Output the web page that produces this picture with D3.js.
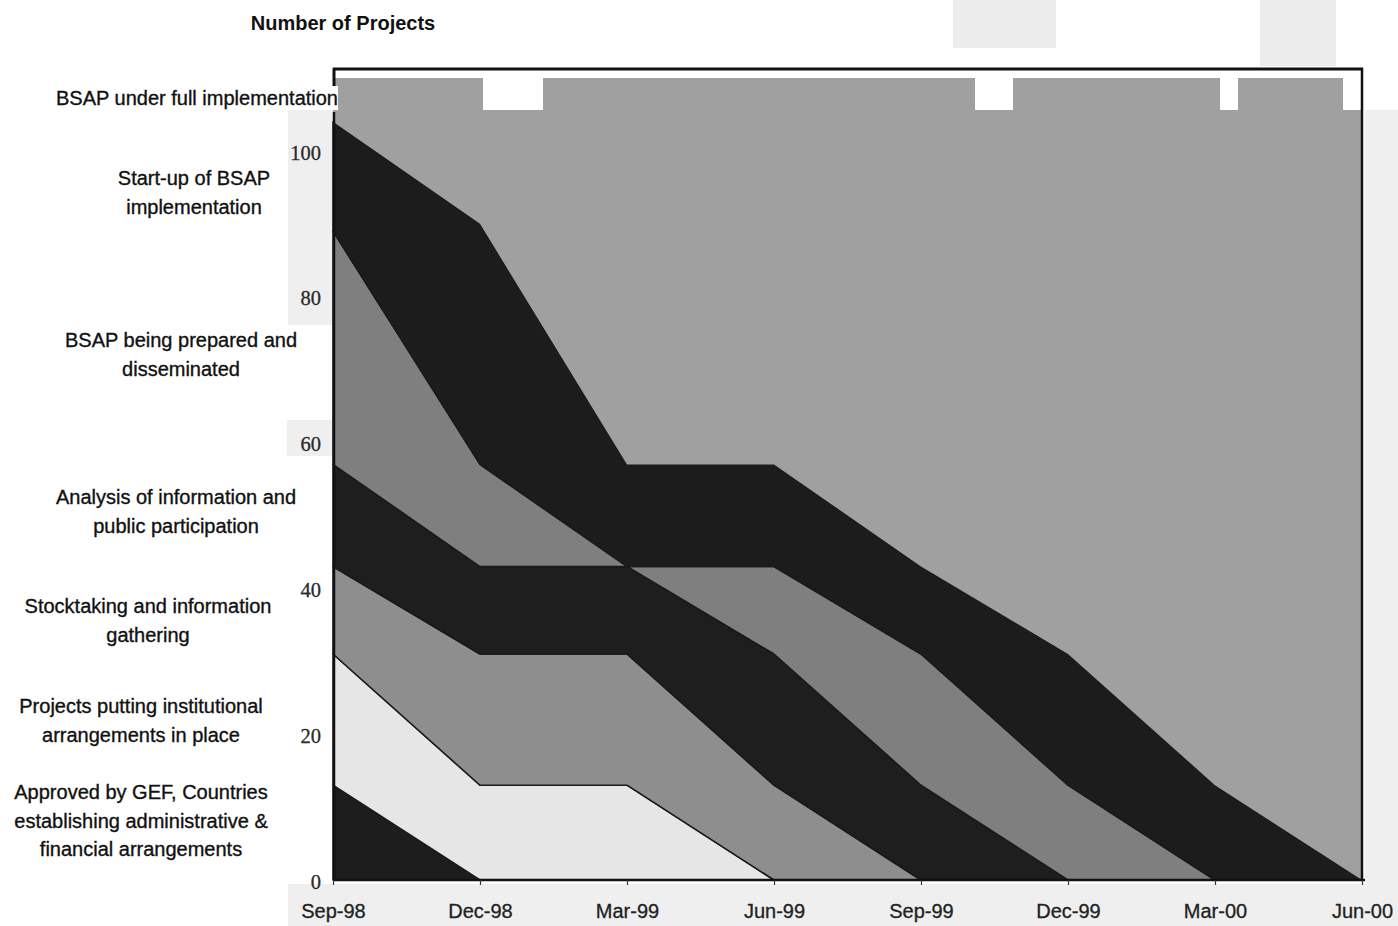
<!DOCTYPE html>
<html><head><meta charset="utf-8">
<script src="https://cdn.jsdelivr.net/npm/d3@7"></script>
<style>
html,body{margin:0;padding:0;background:#fff;}
svg{display:block;}
</style></head>
<body>
<svg id="chart" width="1398" height="926"></svg>
<script>
// ---- data ----
const quarters = ["Sep-98","Dec-98","Mar-99","Jun-99","Sep-99","Dec-99","Mar-00","Jun-00"];
const stageNames = [
  "Approved by GEF, Countries establishing administrative & financial arrangements",
  "Projects putting institutional arrangements in place",
  "Stocktaking and information gathering",
  "Analysis of information and public participation",
  "BSAP being prepared and disseminated",
  "Start-up of BSAP implementation",
  "BSAP under full implementation"
];
const approved      = [13, 0, 0, 0, 0, 0, 0, 0];
const institutional = [18,13,13, 0, 0, 0, 0, 0];
const stocktaking   = [12,18,18,13, 0, 0, 0, 0];
const analysis      = [14,12,12,18,13, 0, 0, 0];
const prepared      = [32,14, 0,12,18,13, 0, 0];
const startup       = [15,33,14,14,12,18,13, 0];
const fullImpl      = [ 6,20,53,53,67,79,97,110];
const yTicks = [0,20,40,60,80,100];
const labelLines = [
  ["Approved by GEF, Countries","establishing administrative &","financial arrangements"],
  ["Projects putting institutional","arrangements in place"],
  ["Stocktaking and information","gathering"],
  ["Analysis of information and","public participation"],
  ["BSAP being prepared and","disseminated"],
  ["Start-up of BSAP","implementation"],
  ["BSAP under full implementation"]
];

// ---- build table ----
const seriesArrays = [approved,institutional,stocktaking,analysis,prepared,startup,fullImpl];
const keys = stageNames;
const table = quarters.map((q,i)=>{
  const row = {q};
  keys.forEach((k,j)=>row[k]=seriesArrays[j][i]);
  return row;
});

const svg = d3.select("#chart");
const fills = ["#1d1d1d","#e6e6e6","#8e8e8e","#1e1e1e","#7f7f7f","#1c1c1c","#a0a0a0"];

const x = d3.scalePoint().domain(quarters).range([333,1362]);
const y = d3.scaleLinear().domain([0,110]).range([880,78]);

// scan "paper" background patches
const paper = svg.append("g").attr("fill","#efefef");
paper.append("rect").attr("x",288).attr("y",110).attr("width",45).attr("height",215);
paper.append("rect").attr("x",287).attr("y",420).attr("width",46).attr("height",36);
paper.append("rect").attr("x",288).attr("y",884).attr("width",1110).attr("height",42);
paper.append("rect").attr("x",1365).attr("y",110).attr("width",33).attr("height",816);
paper.append("rect").attr("x",953).attr("y",0).attr("width",103).attr("height",48).attr("fill","#ececec");
paper.append("rect").attr("x",1260).attr("y",0).attr("width",76).attr("height",66).attr("fill","#ececec");

// stacked areas
const stack = d3.stack().keys(keys);
const layers = stack(table);
const area = d3.area()
  .x(d=>x(d.data.q))
  .y0(d=>y(d[0]))
  .y1(d=>y(d[1]))
  .curve(d3.curveLinear);

svg.append("g").selectAll("path").data(layers).join("path")
  .attr("d",area)
  .attr("fill",(d,i)=>fills[i])
  .attr("stroke","#1a1a1a")
  .attr("stroke-width",(d,i)=> i===6 ? 0 : 1.5)
  .attr("stroke-linejoin","round");

// scan gaps in top strip
const gaps = svg.append("g").attr("fill","#fff");
[[483,543],[975,1013],[1220,1238],[1343,1362]].forEach(g=>{
  gaps.append("rect").attr("x",g[0]).attr("y",76).attr("width",g[1]-g[0]).attr("height",34);
});
svg.append("rect").attr("x",333).attr("y",70).attr("width",1030).attr("height",8).attr("fill","#fff");

// frame
svg.append("line").attr("x1",333).attr("x2",1363).attr("y1",69).attr("y2",69)
  .attr("stroke","#111").attr("stroke-width",3);
svg.append("line").attr("x1",1362).attr("x2",1362).attr("y1",68).attr("y2",881)
  .attr("stroke","#111").attr("stroke-width",2.5);
svg.append("line").attr("x1",334).attr("x2",334).attr("y1",68).attr("y2",86)
  .attr("stroke","#111").attr("stroke-width",3);

// axes
const xAxis = d3.axisBottom(x).tickSize(5).tickPadding(15);
const gx = svg.append("g").attr("transform","translate(0,880)").call(xAxis);
gx.select(".domain").attr("stroke","#111").attr("stroke-width",2.5).attr("d","M333,0H1365");
gx.selectAll(".tick line").attr("stroke","#333").attr("stroke-width",1.2);
gx.selectAll(".tick text").attr("font-family","'Liberation Sans', Arial, sans-serif")
  .attr("font-size",20).attr("fill","#222").attr("stroke","#222").attr("stroke-width",0.3)
  .attr("dy","0.9em");

const yAxis = d3.axisLeft(y).tickValues(yTicks).tickSize(0).tickPadding(13);
const gy = svg.append("g").attr("transform","translate(334,0)").call(yAxis);
gy.select(".domain").attr("stroke","#111").attr("stroke-width",2.5).attr("d","M0,112V880");
gy.selectAll(".tick text").attr("font-family","'Liberation Serif','Times New Roman', serif")
  .attr("font-size",20.5).attr("fill","#2a2a2a").attr("stroke","#2a2a2a").attr("stroke-width",0.3)
  .attr("dy","0.4em");

// category labels (left column)
const labelPos = [
  {cx:141, y:794},
  {cx:141, y:708},
  {cx:148, y:608},
  {cx:176, y:499},
  {cx:181, y:342},
  {cx:194, y:180},
  {cx:197, y:100}
];
svg.append("rect").attr("x",0).attr("y",86).attr("width",338).attr("height",24).attr("fill","#fff");
const lg = svg.append("g").attr("font-family","'Liberation Sans', Arial, sans-serif")
  .attr("font-size",20).attr("fill","#111").attr("stroke","#111").attr("stroke-width",0.35)
  .attr("text-anchor","middle");
labelLines.forEach((lines,i)=>{
  const t = lg.append("text").attr("x",labelPos[i].cx).attr("y",labelPos[i].y).attr("dominant-baseline","middle");
  lines.forEach((ln,j)=>t.append("tspan").attr("x",labelPos[i].cx).attr("dy", j===0?0:28.5).text(ln));
});

// title
svg.append("text").attr("x",343).attr("y",25).attr("text-anchor","middle").attr("dominant-baseline","middle")
  .attr("font-family","'Liberation Sans', Arial, sans-serif").attr("font-weight","bold")
  .attr("font-size",20).attr("fill","#111").text("Number of Projects");
</script>
</body></html>
